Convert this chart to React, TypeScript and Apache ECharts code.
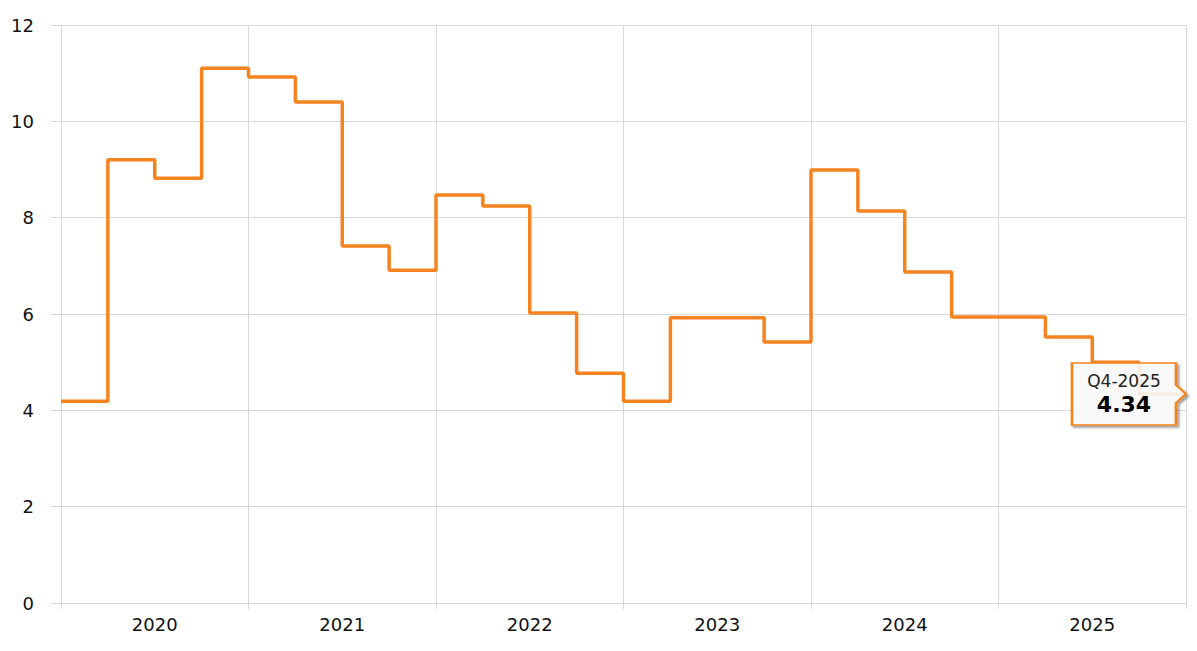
import React, { useEffect, useRef } from "react";
import * as echarts from "echarts";

const years = ["2020", "2021", "2022", "2023", "2024", "2025"];
const quarterNames = ["Q1", "Q2", "Q3", "Q4"];
const values = [
  4.19, 9.2, 8.82, 11.1,
  10.92, 10.4, 7.41, 6.91,
  8.47, 8.24, 6.02, 4.77,
  4.19, 5.92, 5.92, 5.42,
  8.99, 8.14, 6.87, 5.94,
  5.94, 5.52, 5.0, 4.34,
];
const yTicks = { min: 0, max: 12, interval: 2 };

const quarterLabels = years.flatMap((y) => quarterNames.map((q) => `${q}-${y}`));

const ORANGE = "#F5831F";
const GRID = "#d9d9d9";
const FONT = "DejaVu Sans, Verdana, sans-serif";

export default function App() {
  const ref = useRef<HTMLDivElement>(null);
  useEffect(() => {
    if (!ref.current) return;
    const chart = echarts.init(ref.current, undefined, { renderer: "svg" });
    const n = values.length;
    const lastIdx = n - 1;
    const seriesData: number[][] = values.map((v, i) => [i, v]);
    seriesData.push([n, values[lastIdx]]);

    chart.setOption({
      animation: false,
      backgroundColor: "#ffffff",
      textStyle: { fontFamily: FONT },
      grid: { left: 61, right: 11, top: 25, bottom: 48, containLabel: false },
      xAxis: [
        {
          type: "value",
          min: 0,
          max: n,
          interval: 4,
          position: "bottom",
          axisLine: { show: true, lineStyle: { color: GRID, width: 1 } },
          axisTick: { show: true, length: 6, lineStyle: { color: GRID } },
          splitLine: { show: true, lineStyle: { color: GRID, width: 1 } },
          axisLabel: { show: false },
        },
        {
          type: "value",
          min: 0,
          max: n,
          interval: 2,
          position: "bottom",
          axisLine: { show: false },
          axisTick: { show: false },
          splitLine: { show: false },
          axisLabel: {
            show: true,
            margin: 12,
            fontSize: 18,
            color: "#111",
            fontFamily: FONT,
            formatter: (v: number) => (v % 4 === 2 ? years[(v - 2) / 4] ?? "" : ""),
          },
        },
      ],
      yAxis: {
        type: "value",
        min: yTicks.min,
        max: yTicks.max,
        interval: yTicks.interval,
        axisLine: { show: true, lineStyle: { color: GRID, width: 1 } },
        axisTick: { show: true, length: 10, lineStyle: { color: GRID } },
        splitLine: { show: true, lineStyle: { color: GRID, width: 1 } },
        axisLabel: { margin: 27, fontSize: 18, color: "#111", fontFamily: FONT },
      },
      series: [
        {
          type: "line",
          xAxisIndex: 0,
          step: "end",
          data: seriesData,
          symbol: "none",
          lineStyle: { color: ORANGE, width: 3.5 },
          markPoint: {
            symbol: "path://M0 0H104V22L114 31L104 40V62H0Z",
            symbolSize: [114, 62],
            symbolOffset: [-57, 0],
            symbolKeepAspect: false,
            itemStyle: {
              color: "rgba(255,255,255,0.85)",
              borderColor: ORANGE,
              borderWidth: 2,
              shadowColor: "rgba(0,0,0,0.4)",
              shadowBlur: 2,
              shadowOffsetX: 2,
              shadowOffsetY: 2,
            },
            label: {
              show: true,
              position: "inside",
              offset: [-5, 0],
              formatter: () => `{a|${quarterLabels[lastIdx]}}\n{b|${values[lastIdx].toFixed(2)}}`,
              rich: {
                a: { fontSize: 17, color: "#222", fontFamily: FONT, lineHeight: 21, align: "center" },
                b: { fontSize: 22, fontWeight: "bold", color: "#000", fontFamily: FONT, lineHeight: 26, align: "center" },
              },
            },
            data: [{ coord: [n, values[lastIdx]], value: values[lastIdx] }],
          },
        },
      ],
    });
    return () => chart.dispose();
  }, []);
  return (
    <div
      ref={ref}
      style={{ position: "absolute", left: 0, top: 0, width: 1197, height: 651, background: "#fff" }}
    />
  );
}
